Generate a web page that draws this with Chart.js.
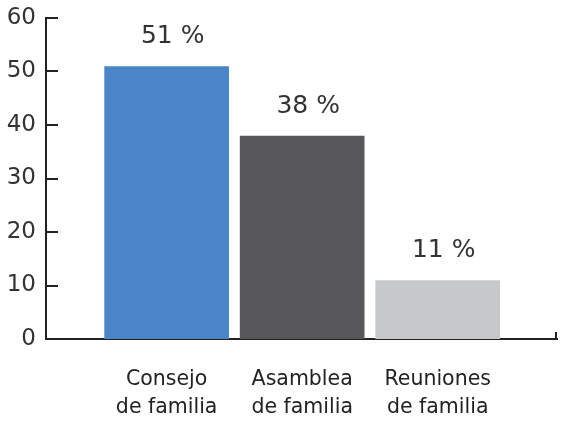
<!DOCTYPE html>
<html>
<head>
<meta charset="utf-8">
<script src="https://cdn.jsdelivr.net/npm/chart.js@4.4.1/dist/chart.umd.min.js"></script>
<style>
  html, body { margin: 0; padding: 0; background: #fff; }
  #wrap { width: 561px; height: 427px; }
</style>
</head>
<body>
<div id="wrap"><canvas id="chart"></canvas></div>
<script>
const categories = [["Consejo", "de familia"], ["Asamblea", "de familia"], ["Reuniones", "de familia"]];
const positions = [1, 2, 3];
const values = [51, 38, 11];
const barColors = ["#4a86c7", "#58585a", "#c7c8ca"];
const yTicks = [0, 10, 20, 30, 40, 50, 60];

const FONT = "'DejaVu Sans', sans-serif";
const AXIS = "#222";

// short inward tick marks on the y axis, end tick on the x axis, % labels over bars
const decorations = {
    id: "decorations",
    afterDatasetsDraw(chart) {
        const ctx = chart.ctx;
        const area = chart.chartArea;
        const y = chart.scales.y;
        ctx.save();
        ctx.strokeStyle = AXIS;
        ctx.lineWidth = 2;
        yTicks.forEach(v => {
            const py = Math.round(y.getPixelForValue(v));
            ctx.beginPath();
            ctx.moveTo(area.left, py);
            ctx.lineTo(area.left + 12, py);
            ctx.stroke();
        });
        ctx.beginPath();
        ctx.moveTo(area.right - 1, area.bottom);
        ctx.lineTo(area.right - 1, area.bottom - 7);
        ctx.stroke();

        ctx.fillStyle = "#333";
        ctx.font = "25px " + FONT;
        ctx.textAlign = "center";
        ctx.textBaseline = "alphabetic";
        chart.getDatasetMeta(0).data.forEach((bar, i) => {
            ctx.fillText(values[i] + " %", bar.x + 6, bar.y - 23);
        });
        ctx.restore();
    }
};

new Chart(document.getElementById("chart"), {
    type: "bar",
    data: {
        datasets: [{
            data: positions.map((p, i) => ({ x: p, y: values[i] })),
            backgroundColor: barColors,
            borderWidth: 0,
            barPercentage: 0.92,
            categoryPercentage: 1
        }]
    },
    options: {
        responsive: true,
        maintainAspectRatio: false,
        animation: false,
        layout: { padding: { top: 18, right: 4, left: 0, bottom: 0 } },
        plugins: { legend: { display: false }, tooltip: { enabled: false } },
        scales: {
            x: {
                type: "linear",
                offset: false,
                min: 0.11,
                max: 3.88,
                afterBuildTicks: s => { s.ticks = positions.map(v => ({ value: v })); },
                afterFit: s => { s.height = 88; },
                grid: { display: false, drawTicks: false, offset: false },
                border: { display: true, color: AXIS, width: 2 },
                ticks: {
                    padding: 26,
                    color: "#222",
                    font: { family: FONT, size: 20.5, lineHeight: 1.4 },
                    callback: v => categories[positions.indexOf(v)]
                }
            },
            y: {
                min: 0,
                max: 60,
                afterBuildTicks: s => { s.ticks = yTicks.map(v => ({ value: v })); },
                afterFit: s => { s.width = 46; s.paddingTop = 0; },
                grid: { display: false, drawTicks: false },
                border: { display: true, color: AXIS, width: 2 },
                ticks: {
                    padding: 10,
                    color: "#333",
                    font: { family: FONT, size: 23 }
                }
            }
        }
    },
    plugins: [decorations]
});
</script>
</body>
</html>
